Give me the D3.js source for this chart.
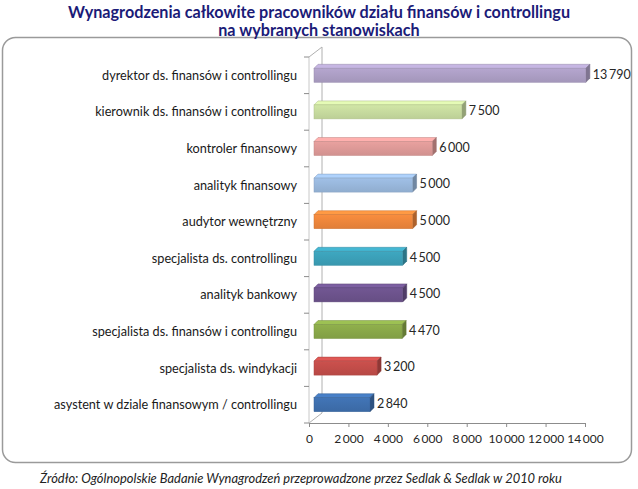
<!DOCTYPE html>
<html><head><meta charset="utf-8">
<script src="https://cdn.jsdelivr.net/npm/d3@7"></script>
<style>body{margin:0;background:#fff}svg{display:block}</style>
</head><body>
<svg id="c" width="638" height="489"></svg>
<script>
const categories = [
  "dyrektor ds. finansów i controllingu",
  "kierownik ds. finansów i controllingu",
  "kontroler finansowy",
  "analityk finansowy",
  "audytor wewnętrzny",
  "specjalista ds. controllingu",
  "analityk bankowy",
  "specjalista ds. finansów i controllingu",
  "specjalista ds. windykacji",
  "asystent w dziale finansowym / controllingu"
];
const values = [13790, 7500, 6000, 5000, 5000, 4500, 4500, 4470, 3200, 2840];
const tickValues = [0, 2000, 4000, 6000, 8000, 10000, 12000, 14000];
const frontColors = ["#A99BC1","#C3D69B","#D99694","#95B3D7","#E8833A","#3A9CB4","#6A5189","#86A447","#BE4B48","#3D6DAA"];
const titleLines = ["Wynagrodzenia całkowite pracowników działu finansów i controllingu","na wybranych stanowiskach"];
const sourceText = "Źródło: Ogólnopolskie Badanie Wynagrodzeń przeprowadzone przez  Sedlak & Sedlak w 2010 roku";

(function(){
const svg = d3.select("#c");
const font = "Lato, 'Open Sans', sans-serif";

svg.append("rect").attr("x",2.5).attr("y",37.5).attr("width",629).attr("height",425)
  .attr("rx",13).attr("fill","#fff").attr("stroke","#9a9a9a").attr("stroke-width",1.5);

svg.selectAll("text.title").data(titleLines).join("text").attr("class","title")
  .attr("x",319).attr("y",(d,i)=>12+i*18).attr("dy","0.35em").attr("text-anchor","middle")
  .attr("font-family",font).attr("font-weight","bold").attr("font-size",16.2)
  .attr("fill","#1B1B78").text(d=>d);

svg.append("text").attr("x",40).attr("y",478).attr("dy","0.35em")
  .attr("font-family",font).attr("font-style","italic").attr("font-size",12.9)
  .attr("fill","#222").text(sourceText);

const x = d3.scaleLinear().domain([0,14000]).range([309,585]);
const y = d3.scaleBand().domain(categories).range([57,423]);
const depthX = 13, depthY = 10;
const barShiftX = 5, barShiftY = -2;
const barD = 4;
const barH = 14;

const g = svg.append("g");
const yTop = y.range()[0], yBot = y.range()[1], x0 = x(0);
g.append("path").attr("d",`M${x0},${yTop} L${x0+depthX},${yTop-depthY} L${x0+depthX},${yBot-depthY} L${x0},${yBot}`)
  .attr("fill","none").attr("stroke","#b0b0b0").attr("stroke-width",1);
g.append("line").attr("x1",x0).attr("x2",x0).attr("y1",yTop).attr("y2",yBot)
  .attr("stroke","#c8c8c8").attr("stroke-width",1);

const yTicks = categories.map(c=>y(c)).concat([yBot]);
g.selectAll("line.yt").data(yTicks).join("line").attr("class","yt")
  .attr("x1",x0-5).attr("x2",x0).attr("y1",d=>d).attr("y2",d=>d)
  .attr("stroke","#8c8c8c");

const xAxis = d3.axisBottom(x).tickValues(tickValues).tickSize(4).tickPadding(7)
  .tickFormat(d=>d3.format(",")(d).replace(/,/g,"\u2009"));
const ax = svg.append("g").attr("transform",`translate(0,${yBot})`).call(xAxis);
ax.select(".domain").attr("stroke","#8c8c8c");
ax.selectAll(".tick line").attr("stroke","#8c8c8c");
ax.selectAll("text").attr("font-family",font).attr("font-size",12).attr("fill","#262626");

svg.selectAll("text.cat").data(categories).join("text").attr("class","cat")
  .attr("x",297).attr("y",d=>y(d)+y.bandwidth()/2).attr("dy","0.35em")
  .attr("text-anchor","end").attr("font-family",font).attr("font-size",12.7)
  .attr("fill","#1a1a1a").text(d=>d);

const defs = svg.append("defs");
frontColors.forEach((c,i)=>{
  const gr = defs.append("linearGradient").attr("id","g"+i).attr("x1",0).attr("y1",0).attr("x2",0).attr("y2",1);
  gr.append("stop").attr("offset","0%").attr("stop-color",d3.color(c).brighter(0.2));
  gr.append("stop").attr("offset","100%").attr("stop-color",d3.color(c).darker(0.1));
});

const bars = svg.selectAll("g.bar").data(values).join("g").attr("class","bar");
bars.each(function(v,i){
  const gg = d3.select(this);
  const c = frontColors[i];
  const xl = x(0)+barShiftX, xr = x(v)+barShiftX;
  const yc = y(categories[i]) + y.bandwidth()/2 + barShiftY;
  const yt = yc - barH/2 + barD/2, yb = yt + barH;
  gg.append("path").attr("d",`M${xl},${yt} L${xl+barD},${yt-barD} L${xr+barD},${yt-barD} L${xr},${yt} Z`)
    .attr("fill",d3.color(c).brighter(0.45)).attr("stroke",d3.color(c).darker(0.4)).attr("stroke-width",0.5);
  gg.append("path").attr("d",`M${xr},${yt} L${xr+barD},${yt-barD} L${xr+barD},${yb-barD} L${xr},${yb} Z`)
    .attr("fill",d3.color(c).darker(0.8)).attr("stroke",d3.color(c).darker(1)).attr("stroke-width",0.5);
  gg.append("rect").attr("x",xl).attr("y",yt).attr("width",xr-xl).attr("height",barH)
    .attr("fill",`url(#g${i})`).attr("stroke",d3.color(c).darker(0.3)).attr("stroke-width",0.5);
  gg.append("text").attr("x",xr+barD+3).attr("y",yc+1).attr("dy","0.35em")
    .attr("font-family",font).attr("font-size",12.5).attr("fill","#262626")
    .text(d3.format(",")(v).replace(/,/g,"\u2009"));
});
})();
</script>
</body></html>
